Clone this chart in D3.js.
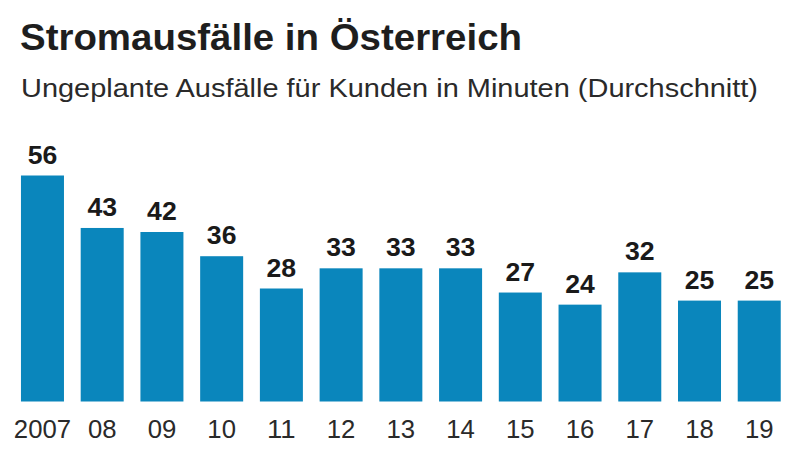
<!DOCTYPE html>
<html><head><meta charset="utf-8">
<script src="https://cdn.jsdelivr.net/npm/d3@7"></script>
<style>body{margin:0;background:#fff}svg{display:block}</style>
</head><body>
<svg id="c" width="800" height="452"></svg>
<script>
const title = "Stromausfälle in Österreich";
const subtitle = "Ungeplante Ausfälle für Kunden in Minuten (Durchschnitt)";
const years = ["2007","08","09","10","11","12","13","14","15","16","17","18","19"];
const values = [56,43,42,36,28,33,33,33,27,24,32,25,25];

const svg = d3.select("#c");
const baseline = 401.5;
const x = d3.scaleBand().domain(years).range([12.6, 789.1]).paddingInner(0.28).paddingOuter(0.14);
const y = d3.scaleLinear().domain([0, 56]).range([baseline, 175.5]);

svg.append("text").attr("x", 20).attr("y", 50)
  .attr("font-family", "Liberation Sans, Arial, sans-serif").attr("font-weight", "bold")
  .attr("font-size", 36).attr("fill", "#1e1e1e")
  .attr("textLength", 502).attr("lengthAdjust", "spacingAndGlyphs").text(title);

svg.append("text").attr("x", 21).attr("y", 97)
  .attr("font-family", "Liberation Sans, Arial, sans-serif")
  .attr("font-size", 26).attr("fill", "#2a2a2a")
  .attr("textLength", 737).attr("lengthAdjust", "spacingAndGlyphs").text(subtitle);

svg.append("g").selectAll("rect").data(values).join("rect")
  .attr("x", (d,i) => x(years[i])).attr("width", x.bandwidth())
  .attr("y", d => y(d)).attr("height", d => baseline - y(d))
  .attr("fill", "#0a86bc");

svg.append("g").selectAll("text").data(values).join("text")
  .attr("x", (d,i) => x(years[i]) + x.bandwidth()/2).attr("y", d => y(d) - 12)
  .attr("text-anchor", "middle")
  .attr("font-family", "Liberation Sans, Arial, sans-serif").attr("font-weight", "bold")
  .attr("font-size", 25).attr("fill", "#1a1a1a")
  .attr("textLength", d => String(d).length * 14.8).attr("lengthAdjust", "spacingAndGlyphs")
  .text(d => d);

const xAxis = d3.axisBottom(x).tickSize(0).tickPadding(0);
const ax = svg.append("g").attr("transform", `translate(0,${baseline})`).call(xAxis);
ax.select(".domain").remove();
ax.selectAll(".tick text")
  .attr("y", 36.5).attr("dy", null)
  .attr("font-family", "Liberation Sans, Arial, sans-serif")
  .attr("font-size", 25).attr("fill", "#2a2a2a")
  .attr("textLength", d => d.length * 14.3).attr("lengthAdjust", "spacingAndGlyphs");
</script>
</body></html>
